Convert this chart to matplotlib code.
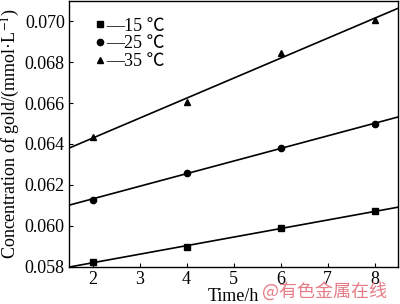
#!/usr/bin/env python3
"""Gold concentration vs time at three temperatures, with linear fits."""

import matplotlib
matplotlib.use("Agg")
import matplotlib.pyplot as plt
import numpy as np
from matplotlib.lines import Line2D

plt.rcParams["font.family"] = ["Liberation Serif", "Noto Sans CJK SC"]
plt.rcParams["mathtext.fontset"] = "stix"

TIME_H = [2, 4, 6, 8]
CONC_15C = [0.05822, 0.05897, 0.05987, 0.06071]
CONC_25C = [0.06128, 0.06258, 0.06381, 0.06498]
CONC_35C = [0.06434, 0.06603, 0.06845, 0.07005]

SERIES = [
    ("—15 ℃", CONC_15C, "s"),
    ("—25 ℃", CONC_25C, "o"),
    ("—35 ℃", CONC_35C, "^"),
]

X_TICKS = [2, 3, 4, 5, 6, 7, 8]
Y_TICKS = [0.058, 0.060, 0.062, 0.064, 0.066, 0.068, 0.070]


def main() -> None:
    fig = plt.figure(figsize=(4.0, 3.04), dpi=100)
    ax = fig.add_axes([0.1725, 0.123, 0.8225, 0.874])

    x_fit = np.array([1.5, 8.5])
    handles = []
    for label, values, marker in SERIES:
        ax.plot(TIME_H, values, linestyle="none", marker=marker,
                markersize=4.5, color="black", zorder=3)
        slope, intercept = np.polyfit(TIME_H, values, 1)
        ax.plot(x_fit, slope * x_fit + intercept, color="black", linewidth=1.2)
        handles.append(Line2D([], [], linestyle="none", marker=marker,
                              markersize=4.5, color="black", label=label))

    ax.set_xlim(1.5, 8.5)
    ax.set_ylim(0.058, 0.071)
    ax.set_xticks(X_TICKS)
    ax.set_yticks(Y_TICKS)
    ax.set_yticklabels([f"{v:.3f}" for v in Y_TICKS])
    ax.tick_params(direction="in", length=3, width=0.8, labelsize=13, pad=3)
    for spine in ax.spines.values():
        spine.set_linewidth(1.0)

    ax.set_xlabel("Time/h", fontsize=13, labelpad=0)
    ax.set_ylabel(r"Concentration of gold/(mmol·L$^{-1}$)", fontsize=13, labelpad=2)

    ax.legend(handles=handles, loc="upper left", bbox_to_anchor=(0.04, 0.985),
              frameon=False, fontsize=13, handlelength=0.6, handletextpad=0.05,
              labelspacing=0.05, borderpad=0.2)

    fig.text(0.655, 0.01, "@有色金属在线", color="#e57d86", fontsize=13,
             family=["Noto Sans CJK SC"], ha="left", va="bottom")

    fig.savefig("out.png", dpi=100)
    plt.close(fig)


if __name__ == "__main__":
    main()
